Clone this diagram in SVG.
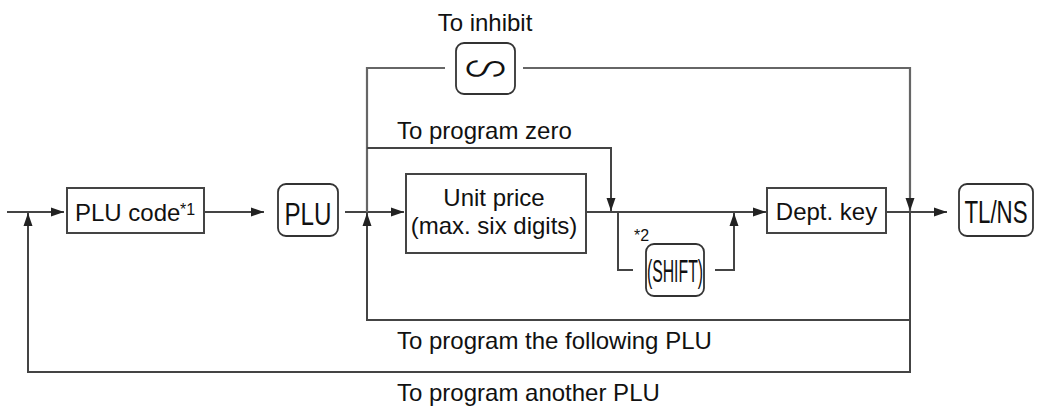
<svg xmlns="http://www.w3.org/2000/svg" width="1040" height="406" viewBox="0 0 1040 406">
<style>
  .t { font-family: "Liberation Sans", Arial, sans-serif; font-size: 24px; fill: #111; }
  .sup { font-family: "Liberation Sans", Arial, sans-serif; font-size: 16px; fill: #111; }
  .key { font-family: "Liberation Sans", Arial, sans-serif; font-size: 31px; fill: #111; text-anchor: middle; }
  .box { fill: #fff; stroke: #444; stroke-width: 2; }
  .kbox { fill: #fff; stroke: #333; stroke-width: 1.8; }
  .ln { fill: none; stroke: #444; stroke-width: 2; }
  .ln2 { fill: none; stroke: #666; stroke-width: 2.2; }
</style>
<defs>
  <marker id="ah" markerUnits="userSpaceOnUse" markerWidth="14" markerHeight="10" refX="13" refY="5" orient="auto">
    <path d="M0,0.5 L13,5 L0,9.5 z" fill="#222"/>
  </marker>
</defs>
<rect width="1040" height="406" fill="#fff"/>

<g id="connectors">
  <path class="ln" d="M7,212 H64" marker-end="url(#ah)"/>
  <path class="ln" d="M204,212 H264" marker-end="url(#ah)"/>
  <path class="ln" d="M345,212 H404" marker-end="url(#ah)"/>
  <path class="ln2" d="M367,212 V68 H445"/>
  <path class="ln2" d="M523,68 H910 V211" marker-end="url(#ah)"/>
  <path class="ln" d="M367,148 H611 V211" marker-end="url(#ah)"/>
  <path class="ln" d="M586,212 H766" marker-end="url(#ah)"/>
  <path class="ln" d="M618,212 V270 H633"/>
  <path class="ln" d="M715,270 H734 V213" marker-end="url(#ah)"/>
  <path class="ln" d="M886,212 H947" marker-end="url(#ah)"/>
  <path class="ln" d="M910,212 V320 H367 V213" marker-end="url(#ah)"/>
  <path class="ln" d="M910,320 V372 H28 V213" marker-end="url(#ah)"/>
</g>

<g id="label-inhibit"><text class="t" x="485" y="31" text-anchor="middle">To inhibit</text></g>
<g id="label-zero"><text class="t" x="397" y="139">To program zero</text></g>
<g id="label-following"><text class="t" x="397" y="349">To program the following PLU</text></g>
<g id="label-another"><text class="t" x="397" y="401">To program another PLU</text></g>

<g id="node-plucode">
  <rect class="box" x="67" y="188" width="137" height="45"/>
  <text class="t" x="75" y="221">PLU code</text>
  <text class="sup" x="180" y="215">*1</text>
</g>

<g id="node-plukey">
  <rect class="kbox" x="278" y="184" width="60" height="52" rx="8"/>
  <text class="key" transform="translate(308,225) scale(0.78,1)">PLU</text>
</g>

<g id="node-inhibit">
  <rect class="kbox" x="456" y="43" width="59" height="51" rx="8"/>
  <g transform="translate(485.5,68.5) rotate(90) scale(0.64,1)">
    <text x="0" y="0" dy="0.355em" text-anchor="middle" font-family="Roboto, 'Liberation Sans', sans-serif" font-weight="300" font-size="51" fill="#111">S</text>
  </g>
</g>

<g id="node-unitprice">
  <rect class="box" x="406" y="174" width="180" height="79"/>
  <text class="t" x="494" y="206" text-anchor="middle">Unit price</text>
  <text class="t" x="494" y="234" text-anchor="middle">(max. six digits)</text>
</g>

<g id="node-shift">
  <text class="sup" x="634" y="241">*2</text>
  <rect class="kbox" x="646" y="244" width="58" height="52" rx="8"/>
  <text class="key" font-size="29" transform="translate(675,282) scale(0.51,1)">(SHIFT)</text>
</g>

<g id="node-dept">
  <rect class="box" x="767" y="188" width="119" height="45"/>
  <text class="t" x="826.5" y="220" text-anchor="middle">Dept. key</text>
</g>

<g id="node-tlns">
  <rect class="kbox" x="959" y="184" width="74" height="52" rx="8"/>
  <text class="key" transform="translate(996,223) scale(0.72,1)">TL/NS</text>
</g>
</svg>
